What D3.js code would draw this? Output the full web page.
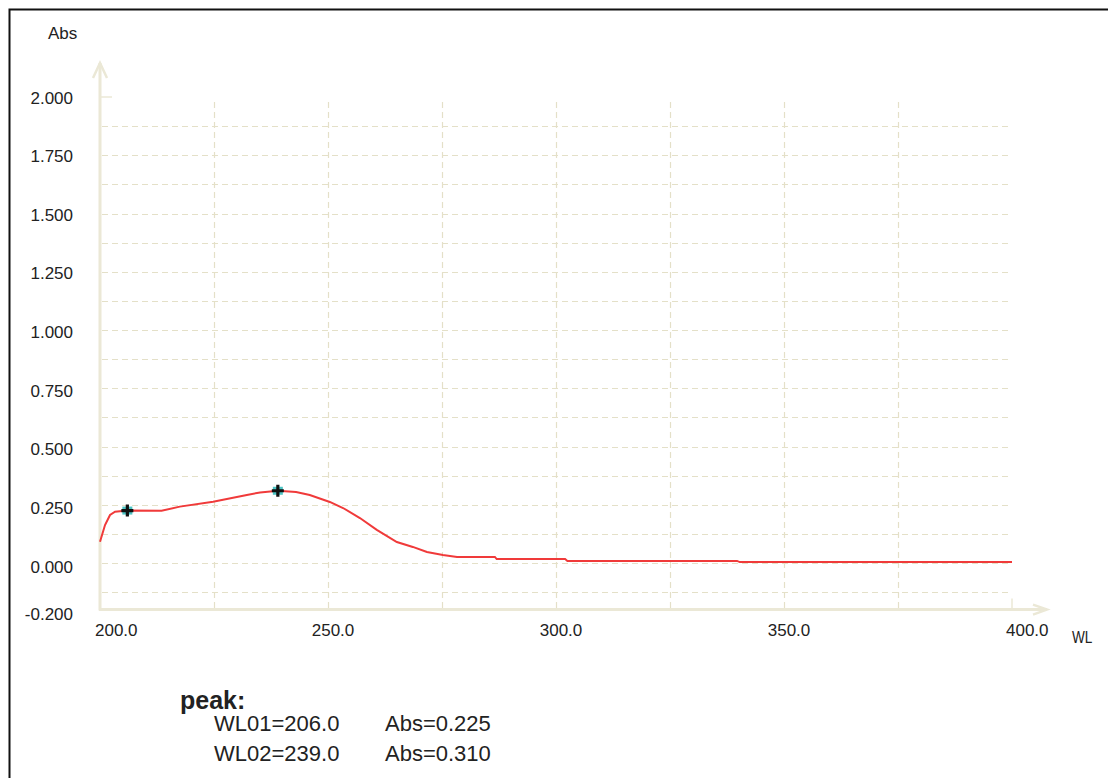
<!DOCTYPE html>
<html>
<head>
<meta charset="utf-8">
<script src="https://cdn.jsdelivr.net/npm/d3@7"></script>
<style>
  html, body { margin: 0; padding: 0; background: #fff; }
  svg { display: block; }
  text { font-family: "Liberation Sans", Arial, sans-serif; fill: #222; }
</style>
</head>
<body>
<svg id="chart" width="1108" height="778"></svg>
<script>
// ---- data ----
const wavelengths = [200, 201.1, 202.2, 203.3, 206, 213.5, 217.5, 224.8, 232.2, 235.1, 239, 243, 246, 250.4, 253.3, 257, 260.7, 265.1, 268.6, 271.7, 275.2, 278.3, 286.6, 287, 302, 302.5, 339.7, 340.3, 400];
const absorbance  = [0.091, 0.163, 0.206, 0.220, 0.225, 0.224, 0.242, 0.263, 0.292, 0.303, 0.310, 0.305, 0.292, 0.262, 0.236, 0.193, 0.142, 0.090, 0.069, 0.047, 0.034, 0.026, 0.026, 0.017, 0.017, 0.009, 0.009, 0.004, 0.004];
const peakWL  = [206.0, 239.0];
const peakAbs = [0.225, 0.310];
const yTicks = [2.0, 1.75, 1.5, 1.25, 1.0, 0.75, 0.5, 0.25, 0.0, -0.2];
const xTicks = [200, 250, 300, 350, 400];
const yGrid = [-0.125, 0, 0.125, 0.25, 0.375, 0.5, 0.625, 0.75, 0.875, 1.0, 1.125, 1.25, 1.375, 1.5, 1.625, 1.75, 1.875];
const xGrid = [225, 250, 275, 300, 325, 350, 375];

const svg = d3.select("#chart");
const x = d3.scaleLinear().domain([200, 400]).range([100, 1012]);
const y = d3.scaleLinear().domain([0, 2.0]).range([563, 97]);
const axisColor = "#ebe8d6";
const gridColor = "#e4e0c8";
const fmt3 = v => d3.format(".3f")(v).replace("\u2212", "-");

// frame (top & left)
svg.append("path").attr("d", "M9.5,790 L9.5,9.5 L1120,9.5")
  .attr("fill", "none").attr("stroke", "#111").attr("stroke-width", 2);

// grid
svg.append("g").selectAll("line").data(yGrid).join("line")
  .attr("x1", x(200) + 2).attr("x2", x(400))
  .attr("y1", d => Math.round(y(d)) + 0.5).attr("y2", d => Math.round(y(d)) + 0.5)
  .attr("stroke", gridColor).attr("stroke-width", 1.2).attr("stroke-dasharray", "6,4");
svg.append("g").selectAll("line").data(xGrid).join("line")
  .attr("x1", d => Math.round(x(d)) + 0.5).attr("x2", d => Math.round(x(d)) + 0.5)
  .attr("y1", y(2.0) + 5).attr("y2", y(-0.2))
  .attr("stroke", gridColor).attr("stroke-width", 1.2).attr("stroke-dasharray", "6,4");

// axes
const y0 = y(-0.2);
svg.append("line").attr("x1", x(200)).attr("x2", x(200)).attr("y1", y0 + 1).attr("y2", 63)
  .attr("stroke", axisColor).attr("stroke-width", 3);
svg.append("path").attr("d", `M${x(200)-7},78 L${x(200)},63 L${x(200)+7},78`)
  .attr("fill", "none").attr("stroke", axisColor).attr("stroke-width", 2.5);
svg.append("line").attr("x1", x(200) - 1).attr("x2", 1047).attr("y1", y0).attr("y2", y0)
  .attr("stroke", axisColor).attr("stroke-width", 3);
svg.append("path").attr("d", `M1033,${y0-5} L1047,${y0} L1033,${y0+5}`)
  .attr("fill", "none").attr("stroke", axisColor).attr("stroke-width", 2.5);
// small ticks
svg.append("line").attr("x1", x(200)).attr("x2", x(200) + 12).attr("y1", y(2.0)).attr("y2", y(2.0))
  .attr("stroke", axisColor).attr("stroke-width", 1.5);
svg.append("line").attr("x1", x(400)).attr("x2", x(400)).attr("y1", y0).attr("y2", y0 - 11)
  .attr("stroke", axisColor).attr("stroke-width", 1.5);

// y tick labels
svg.append("g").selectAll("text").data(yTicks).join("text")
  .attr("x", 73).attr("y", (d, i) => y(d) + 1 + i * 0.4)
  .attr("text-anchor", "end").attr("dominant-baseline", "central")
  .attr("font-size", 17).text(d => fmt3(d));
// x tick labels
svg.append("g").selectAll("text").data(xTicks).join("text")
  .attr("x", (d, i) => i === 0 ? x(d) - 5 : (i === xTicks.length - 1 ? x(d) - 6 : x(d) + 5))
  .attr("y", y0 + 21)
  .attr("text-anchor", (d, i) => (i === 0 || i === xTicks.length - 1) ? "start" : "middle")
  .attr("dominant-baseline", "central")
  .attr("font-size", 17).text(d => d3.format(".1f")(d));

// axis titles
svg.append("text").attr("x", 48).attr("y", 33).attr("dominant-baseline", "central")
  .attr("font-size", 17).text("Abs");
svg.append("text").attr("transform", "translate(1072,637) scale(0.8,1)")
  .attr("dominant-baseline", "central")
  .attr("font-size", 17).text("WL");

// curve
const line = d3.line().x((d, i) => x(wavelengths[i])).y(d => y(d));
svg.append("path").datum(absorbance).attr("d", line)
  .attr("fill", "none").attr("stroke", "#f03a3a").attr("stroke-width", 2);

// peak markers
const mk = svg.append("g").selectAll("g").data(peakWL).join("g")
  .attr("transform", (d, i) => `translate(${x(d)},${y(peakAbs[i])})`);
mk.append("rect").attr("x", -5).attr("y", -4).attr("width", 10).attr("height", 8).attr("fill", "#4cc4c4");
mk.append("path").attr("d", "M-6,0 L6,0 M0,-6 L0,6").attr("stroke", "#111").attr("stroke-width", 3.2);

// peak table
svg.append("text").attr("x", 180).attr("y", 700).attr("dominant-baseline", "central")
  .attr("font-size", 25).attr("font-weight", "bold").text("peak:");
const rows = svg.append("g").selectAll("g").data(peakWL).join("g");
rows.append("text").attr("x", 214).attr("y", (d, i) => 723 + i * 30)
  .attr("dominant-baseline", "central").attr("font-size", 22)
  .text((d, i) => `WL0${i + 1}=${d3.format(".1f")(d)}`);
rows.append("text").attr("x", 385).attr("y", (d, i) => 723 + i * 30)
  .attr("dominant-baseline", "central").attr("font-size", 22)
  .text((d, i) => `Abs=${fmt3(peakAbs[i])}`);
</script>
</body>
</html>
